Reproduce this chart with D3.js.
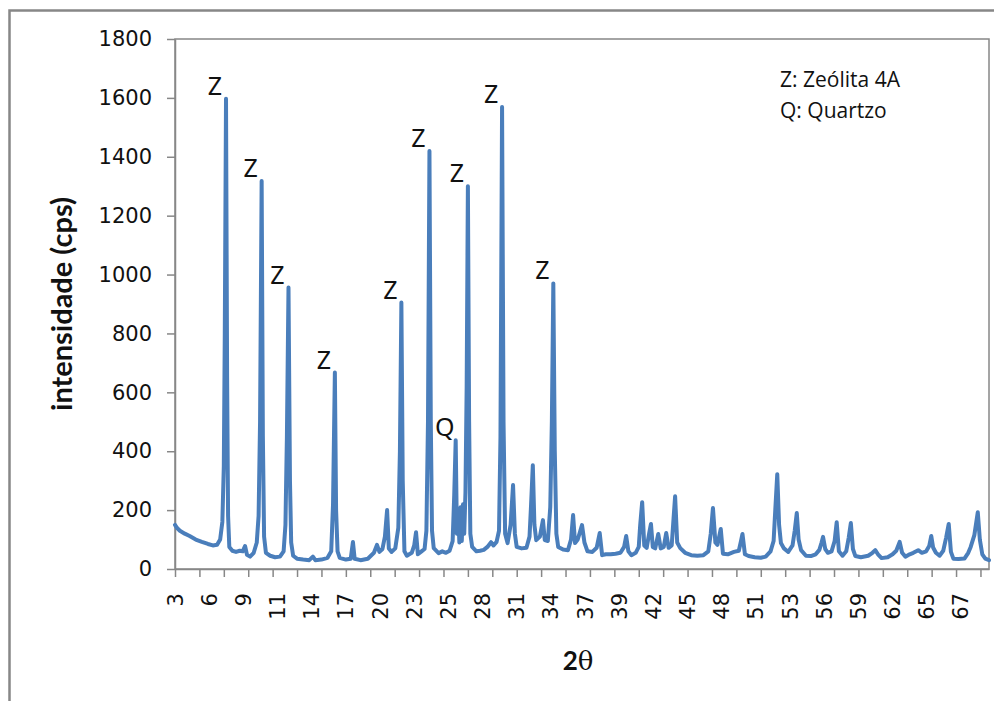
<!DOCTYPE html>
<html>
<head>
<meta charset="utf-8">
<script src="https://cdn.jsdelivr.net/npm/d3@7"></script>
<style>
  html, body { margin: 0; padding: 0; background: #ffffff; }
  svg { display: block; }
</style>
</head>
<body>
<script>
// Diffraction pattern: 2θ (degrees) and intensity (cps)
const twoTheta = [
  3.00, 3.15, 3.4, 3.8, 4.2, 4.7, 5.2, 5.7, 6.1, 6.45, 6.7, 6.88, 7.0, 7.08, 7.18, 7.27, 7.35, 7.45, 7.7, 8.0,
  8.3, 8.55, 8.74, 8.9, 9.15, 9.45, 9.7, 9.85, 9.97, 10.1, 10.2, 10.3, 10.45, 10.8, 11.2, 11.6, 11.9, 12.05, 12.17, 12.3,
  12.42, 12.52, 12.68, 13.0, 13.5, 14.0, 14.3, 14.5, 15.0, 15.5, 15.8, 15.95, 16.1, 16.2, 16.32, 16.5, 17.0, 17.4, 17.58, 17.72,
  18.2, 18.8, 19.3, 19.55, 19.75, 20.0, 20.2, 20.38, 20.52, 20.75, 21.05, 21.3, 21.43, 21.55, 21.66, 21.8, 22.0, 22.4, 22.6, 22.75,
  22.9, 23.2, 23.45, 23.6, 23.73, 23.85, 23.96, 24.06, 24.2, 24.6, 24.9, 25.2, 25.5, 25.75, 25.88, 26.0, 26.1, 26.2, 26.3, 26.4,
  26.5, 26.6, 26.7, 26.8, 26.9, 27.0, 27.1, 27.2, 27.35, 27.7, 28.0, 28.3, 28.6, 28.9, 29.1, 29.35, 29.55, 29.67, 29.8, 29.92,
  30.05, 30.25, 30.5, 30.7, 30.85, 31.0, 31.4, 31.8, 32.05, 32.18, 32.32, 32.45, 32.6, 32.9, 33.15, 33.3, 33.55, 33.75, 33.88, 34.0,
  34.12, 34.25, 34.4, 34.8, 35.2, 35.45, 35.62, 35.78, 36.0, 36.35, 36.55, 36.8, 37.2, 37.55, 37.8, 38.0, 38.3, 38.7, 39.1, 39.5,
  39.8, 39.97, 40.15, 40.4, 40.75, 41.0, 41.12, 41.28, 41.45, 41.65, 41.85, 42.0, 42.15, 42.35, 42.6, 42.8, 43.05, 43.25, 43.45, 43.7,
  43.85, 43.98, 44.15, 44.4, 44.8, 45.3, 45.8, 46.3, 46.7, 46.9, 47.08, 47.28, 47.45, 47.72, 47.9, 48.3, 48.8, 49.2, 49.38, 49.5,
  49.7, 50.0, 50.5, 51.0, 51.4, 51.8, 52.05, 52.2, 52.35, 52.5, 52.65, 52.9, 53.25, 53.6, 53.78, 53.95, 54.1, 54.3, 54.7, 55.1,
  55.5, 55.8, 55.98, 56.1, 56.28, 56.5, 56.8, 57.05, 57.22, 57.4, 57.7, 58.0, 58.2, 58.38, 58.55, 58.75, 59.2, 59.8, 60.15, 60.38,
  60.6, 60.9, 61.4, 61.8, 62.1, 62.38, 62.58, 62.85, 63.2, 63.5, 63.9, 64.2, 64.55, 64.8, 64.97, 65.12, 65.35, 65.65, 65.95, 66.18,
  66.4, 66.58, 66.78, 67.2, 67.7, 68.0, 68.2, 68.5, 68.78, 68.95, 69.15, 69.4, 69.7
];
const intensity = [
  150, 140, 130, 120, 112, 100, 92, 85, 80, 82, 100, 160, 350, 800, 1597, 650, 180, 75, 62, 58,
  62, 60, 78, 48, 42, 55, 90, 180, 500, 1318, 450, 110, 55, 45, 40, 42, 60, 150, 450, 956,
  300, 90, 45, 35, 32, 30, 42, 30, 32, 38, 60, 220, 667, 200, 60, 38, 32, 35, 92, 35,
  30, 35, 55, 82, 58, 68, 110, 200, 70, 58, 70, 140, 400, 905, 300, 60, 45, 55, 80, 125,
  50, 60, 68, 130, 500, 1420, 500, 130, 71, 54, 60, 55, 62, 95, 250, 437, 120, 200, 90, 210,
  95, 220, 120, 260, 620, 1300, 500, 120, 75, 60, 62, 65, 75, 91, 80, 92, 130, 450, 1569, 500,
  120, 88, 150, 285, 120, 75, 70, 72, 110, 220, 352, 150, 98, 110, 166, 98, 95, 210, 500, 970,
  400, 120, 75, 66, 64, 100, 183, 88, 100, 149, 90, 60, 58, 72, 122, 47, 50, 50, 52, 55,
  75, 112, 60, 47, 55, 75, 150, 227, 80, 72, 120, 153, 75, 70, 119, 70, 75, 122, 72, 80,
  170, 247, 90, 71, 55, 47, 45, 47, 60, 120, 207, 90, 82, 136, 52, 50, 58, 62, 95, 119,
  50, 44, 40, 38, 42, 60, 95, 210, 322, 150, 88, 70, 58, 80, 130, 190, 100, 64, 45, 44,
  50, 65, 90, 109, 68, 55, 60, 95, 159, 60, 45, 60, 105, 156, 68, 44, 40, 45, 55, 64,
  50, 37, 40, 50, 62, 92, 55, 42, 50, 55, 64, 55, 60, 78, 112, 73, 55, 45, 62, 105,
  153, 58, 35, 34, 36, 55, 75, 115, 193, 100, 50, 35, 30
];

// Phase identification of the main reflections
const peakTheta = [7.18, 10.1, 12.3, 16.1, 21.55, 23.85, 26.0, 27.0, 29.8, 34.0];
const peakPhase = ["Z", "Z", "Z", "Z", "Z", "Z", "Q", "Z", "Z", "Z"];

const legendLines = ["Z: Zeólita 4A", "Q: Quartzo"];

// Axis ticks
const yTicks = [0, 200, 400, 600, 800, 1000, 1200, 1400, 1600, 1800];
const xTickMarks = d3.range(3, 70, 2);
const xLabelTheta = [3, 5.8, 8.6, 11.4, 14.2, 17, 19.8, 22.6, 25.4, 28.2, 31, 33.8,
  36.6, 39.4, 42.2, 45, 47.8, 50.6, 53.4, 56.2, 59, 61.8, 64.6, 67.4];
const xLabelText = ["3", "6", "9", "11", "14", "17", "20", "23", "25", "28", "31", "34",
  "37", "39", "42", "45", "48", "51", "53", "56", "59", "62", "65", "67"];

const W = 1002, H = 701;
const plot = { left: 175, right: 989, top: 39, bottom: 569 };
const axisGrey = "#878787";
const lineBlue = "#4a7ebb";

const svg = d3.select("body").append("svg")
  .attr("width", W).attr("height", H);

svg.append("rect").attr("width", W).attr("height", H).attr("fill", "#ffffff");

// chart frame
svg.append("path")
  .attr("d", `M9.5,${H} V10.5 H994`)
  .attr("fill", "none").attr("stroke", axisGrey).attr("stroke-width", 2.5);

const x = d3.scaleLinear().domain([3, 69.7]).range([plot.left, plot.right]);
const y = d3.scaleLinear().domain([0, 1800]).range([plot.bottom, plot.top]);

// plot area border
svg.append("rect")
  .attr("x", plot.left).attr("y", plot.top)
  .attr("width", plot.right - plot.left).attr("height", plot.bottom - plot.top)
  .attr("fill", "none").attr("stroke", axisGrey).attr("stroke-width", 1.5);

// y axis
const yAxis = svg.append("g")
  .attr("transform", `translate(${plot.left},0)`)
  .call(d3.axisLeft(y).tickValues(yTicks).tickFormat(d3.format("d"))
    .tickSize(8).tickSizeOuter(0).tickPadding(15));
yAxis.selectAll("path, line").attr("stroke", axisGrey).attr("stroke-width", 1.5);
yAxis.selectAll("text")
  .attr("font-family", "DejaVu Sans, Verdana, sans-serif")
  .attr("font-size", 21).attr("fill", "#111");

// x axis: tick marks every 2°, labels every 2.8°
const xAxis = svg.append("g")
  .attr("transform", `translate(0,${plot.bottom})`)
  .call(d3.axisBottom(x).tickValues(xTickMarks).tickSize(8).tickSizeOuter(0).tickFormat(""));
xAxis.selectAll("path, line").attr("stroke", axisGrey).attr("stroke-width", 1.5);

svg.append("g").selectAll("text")
  .data(xLabelTheta)
  .join("text")
  .attr("transform", d => `translate(${x(d)},${plot.bottom + 24}) rotate(-90)`)
  .attr("text-anchor", "end")
  .attr("dy", "0.36em")
  .attr("font-family", "DejaVu Sans, Verdana, sans-serif")
  .attr("font-size", 21).attr("fill", "#111")
  .text((d, i) => xLabelText[i]);

// diffraction pattern
const pattern = twoTheta.map((t, i) => [t, intensity[i]]);
svg.append("path")
  .datum(pattern)
  .attr("fill", "none")
  .attr("stroke", lineBlue)
  .attr("stroke-width", 4)
  .attr("stroke-linejoin", "round")
  .attr("stroke-linecap", "round")
  .attr("d", d3.line().x(d => x(d[0])).y(d => y(d[1])));

// phase labels above peaks
svg.append("g").selectAll("text")
  .data(peakTheta)
  .join("text")
  .attr("x", d => x(d) - 11)
  .attr("y", d => y(intensity[twoTheta.indexOf(d)]) - 4)
  .attr("text-anchor", "middle")
  .attr("font-family", "Noto Sans, sans-serif")
  .attr("font-size", 25).attr("fill", "#111")
  .text((d, i) => peakPhase[i]);

// legend text
svg.append("g").selectAll("text")
  .data(legendLines)
  .join("text")
  .attr("x", 780)
  .attr("y", (d, i) => 87 + i * 31)
  .attr("font-family", "Open Sans, sans-serif")
  .attr("font-size", 21).attr("fill", "#111")
  .text(d => d);

// axis titles
svg.append("text")
  .attr("transform", "translate(72,304) rotate(-90)")
  .attr("text-anchor", "middle")
  .attr("font-family", "Lato, sans-serif")
  .attr("font-weight", "bold")
  .attr("font-size", 29).attr("fill", "#111")
  .text("intensidade (cps)");

const xTitle = svg.append("text")
  .attr("x", 578).attr("y", 670)
  .attr("text-anchor", "middle")
  .attr("font-size", 26).attr("fill", "#111")
  .attr("font-weight", "bold");
xTitle.append("tspan").attr("font-family", "Lato, sans-serif").text("2");
xTitle.append("tspan").attr("font-family", "DejaVu Serif, serif").attr("font-weight", "normal").text("θ");
</script>
</body>
</html>
